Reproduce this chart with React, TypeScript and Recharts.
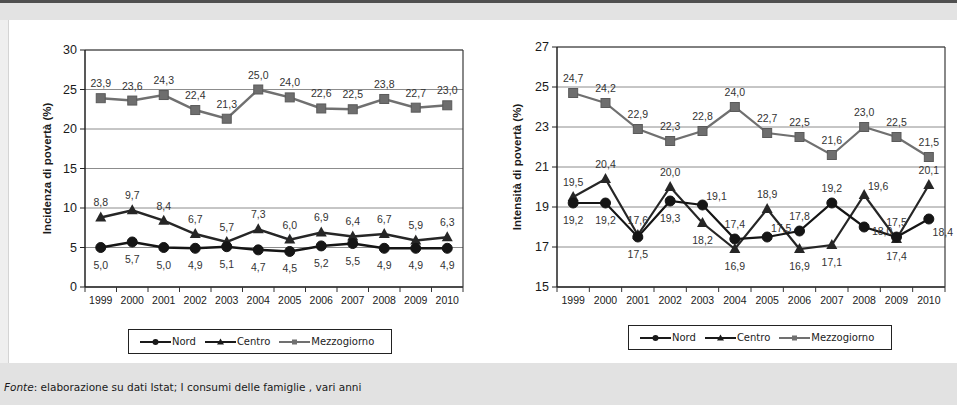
import React from 'react';
import { LineChart, Line, XAxis, YAxis, CartesianGrid } from 'recharts';

const years = ['1999', '2000', '2001', '2002', '2003', '2004', '2005', '2006', '2007', '2008', '2009', '2010'];

// incidenza di povertà (%)
const incNord = [5.0, 5.7, 5.0, 4.9, 5.1, 4.7, 4.5, 5.2, 5.5, 4.9, 4.9, 4.9];
const incCentro = [8.8, 9.7, 8.4, 6.7, 5.7, 7.3, 6.0, 6.9, 6.4, 6.7, 5.9, 6.3];
const incSud = [23.9, 23.6, 24.3, 22.4, 21.3, 25.0, 24.0, 22.6, 22.5, 23.8, 22.7, 23.0];
const incTicks = [0, 5, 10, 15, 20, 25, 30];

// intensità di povertà (%)
const intNord = [19.2, 19.2, 17.5, 19.3, 19.1, 17.4, 17.5, 17.8, 19.2, 18.0, 17.5, 18.4];
const intCentro = [19.5, 20.4, 17.6, 20.0, 18.2, 16.9, 18.9, 16.9, 17.1, 19.6, 17.4, 20.1];
const intSud = [24.7, 24.2, 22.9, 22.3, 22.8, 24.0, 22.7, 22.5, 21.6, 23.0, 22.5, 21.5];
const intTicks = [15, 17, 19, 21, 23, 25, 27];

const seriesNames = ['Nord', 'Centro', 'Mezzogiorno'];

// where each value label sits relative to its marker
const allTop = years.map(() => 'T');
const allBottom = years.map(() => 'B');
const intNordPlace = ['B', 'B', 'B', 'B', 'TR', 'T', 'TR', 'T', 'T', 'R', 'T', 'BR'];
const intCentroPlace = ['T', 'T', 'T', 'T', 'B', 'B', 'T', 'B', 'B', 'TR', 'B', 'T'];

const labelOffsets: Record<string, [number, number]> = {
  T: [0, -11],
  B: [0, 21],
  TR: [14, -5],
  R: [18, 8],
  BR: [14, 17],
};

const incData = years.map((year, i) => ({ year, nord: incNord[i], centro: incCentro[i], sud: incSud[i] }));
const intData = years.map((year, i) => ({ year, nord: intNord[i], centro: intCentro[i], sud: intSud[i] }));

const fmt = (v: number) => v.toFixed(1).replace('.', ',');

const DOT_COLORS = { nord: '#151515', centro: '#262626', sud: '#6e6e6e' };

const makeDot = (key: 'nord' | 'centro' | 'sud', place: string[]) => (props: any) => {
  const { cx, cy, index, payload } = props;
  if (cx == null || cy == null) return <g key={`e${index}`} />;
  const [dx, dy] = labelOffsets[place[index]] || [0, -11];
  const color = DOT_COLORS[key];
  let marker;
  if (key === 'nord') marker = <circle cx={cx} cy={cy} r={5} fill={color} stroke={color} />;
  else if (key === 'centro')
    marker = <polygon points={`${cx},${cy - 6} ${cx - 5.5},${cy + 4} ${cx + 5.5},${cy + 4}`} fill={color} />;
  else marker = <rect x={cx - 4.5} y={cy - 4.5} width={9} height={9} fill={color} stroke="#5a5a5a" />;
  return (
    <g key={`${key}${index}`}>
      {marker}
      <text
        x={cx + dx}
        y={cy + dy}
        textAnchor="middle"
        fontSize={10.5}
        fontFamily="Liberation Sans, Arial, sans-serif"
        fill="#333"
      >
        {fmt(payload[key])}
      </text>
    </g>
  );
};

const YearTick = (props: any) => {
  const { x, y, payload, band } = props;
  const last = payload.value === years[years.length - 1];
  return (
    <g>
      <line x1={x - band / 2} x2={x - band / 2} y1={y - 10} y2={y - 5} stroke="#333" />
      {last && <line x1={x + band / 2} x2={x + band / 2} y1={y - 10} y2={y - 5} stroke="#333" />}
      <text x={x} y={y} dy="0.71em" textAnchor="middle" fontSize={10.5} fontFamily="Liberation Sans, Arial, sans-serif" fill="#1a1a1a">
        {payload.value}
      </text>
    </g>
  );
};

type ChartProps = {
  left: number;
  width: number;
  top: number;
  data: any[];
  ticks: number[];
  yLabel: string;
  axisWidth: number;
  labelX: number;
  marginTop: number;
  marginRight: number;
  places: { nord: string[]; centro: string[]; sud: string[] };
  lineW: number;
};

const PovertyChart = (p: ChartProps) => {
  const height = 310;
  const band = (p.width - p.axisWidth - p.marginRight) / years.length;
  const domain: [number, number] = [p.ticks[0], p.ticks[p.ticks.length - 1]];
  const font = 'Liberation Sans, Arial, sans-serif';
  return (
    <div style={{ position: 'absolute', left: p.left, top: p.top }}>
      <LineChart
        width={p.width}
        height={height}
        data={p.data}
        margin={{ top: p.marginTop - 1, right: p.marginRight - 1, left: 0, bottom: 0 }}
      >
        <CartesianGrid vertical={false} stroke="#8c8c8c" strokeWidth={1} />
        <XAxis
          dataKey="year"
          interval={0}
          height={23}
          padding={{ left: band / 2, right: band / 2 }}
          tickSize={4}
          tickMargin={6}
          tickLine={false}
          axisLine={{ stroke: '#222', strokeWidth: 1.5 }}
          tick={<YearTick band={band} />}
        />
        {/* plot frame: top and right edges */}
        <XAxis
          xAxisId="frame"
          dataKey="year"
          orientation="top"
          height={1}
          tick={false}
          tickLine={false}
          axisLine={{ stroke: '#3a3a3a', strokeWidth: 1.2 }}
        />
        <YAxis
          yAxisId="frame"
          orientation="right"
          width={1}
          domain={domain}
          tick={false}
          tickLine={false}
          axisLine={{ stroke: '#3a3a3a', strokeWidth: 1.2 }}
        />
        <YAxis
          domain={domain}
          ticks={p.ticks}
          interval={0}
          width={p.axisWidth}
          tickSize={5}
          tickMargin={3}
          axisLine={{ stroke: '#222', strokeWidth: 1.5 }}
          tickLine={{ stroke: '#222' }}
          tick={{ fontSize: 12.5, fill: '#1a1a1a', fontFamily: font }}
          label={{
            value: p.yLabel,
            angle: -90,
            position: 'insideLeft',
            offset: p.labelX,
            style: { textAnchor: 'middle', fontSize: 11.5, fontWeight: 'bold', fill: '#1a1a1a', fontFamily: font },
          }}
        />
        <Line
          xAxisId="frame"
          yAxisId="frame"
          dataKey="sud"
          stroke="none"
          strokeWidth={0}
          dot={false}
          activeDot={false}
          isAnimationActive={false}
        />
        <Line dataKey="sud" stroke="#707070" strokeWidth={p.lineW} dot={makeDot('sud', p.places.sud)} activeDot={false} isAnimationActive={false} />
        <Line dataKey="centro" stroke="#262626" strokeWidth={p.lineW} dot={makeDot('centro', p.places.centro)} activeDot={false} isAnimationActive={false} />
        <Line dataKey="nord" stroke="#151515" strokeWidth={p.lineW} dot={makeDot('nord', p.places.nord)} activeDot={false} isAnimationActive={false} />
      </LineChart>
    </div>
  );
};

const LegendIcon = ({ kind }: { kind: number }) => {
  const color = kind === 2 ? '#707070' : '#1a1a1a';
  return (
    <svg width={31} height={10} style={{ display: 'block' }}>
      <line x1={0} x2={31} y1={5} y2={5} stroke={color} strokeWidth={2} />
      {kind === 0 && <circle cx={15.5} cy={5} r={3} fill={color} />}
      {kind === 1 && <polygon points="15.5,1.5 12,7.5 19,7.5" fill={color} />}
      {kind === 2 && <rect x={13} y={2.5} width={5} height={5} fill={color} />}
    </svg>
  );
};

const LegendBox = ({ left, top }: { left: number; top: number }) => (
  <div
    style={{
      position: 'absolute',
      left,
      top,
      width: 264,
      height: 25,
      boxSizing: 'border-box',
      border: '1.5px solid #222',
      display: 'flex',
      alignItems: 'center',
      paddingLeft: 11,
      fontFamily: 'DejaVu Sans, sans-serif',
      fontSize: 10,
      color: '#222',
      background: '#fff',
    }}
  >
    {seriesNames.map((name, i) => (
      <div key={name} style={{ display: 'flex', alignItems: 'center', marginRight: 9 }}>
        <LegendIcon kind={i} />
        <span style={{ marginLeft: 1 }}>{name}</span>
      </div>
    ))}
  </div>
);

export default function App() {
  return (
    <div style={{ position: 'absolute', left: 0, top: 0, width: 957, height: 405, overflow: 'hidden', background: '#fff' }}>
      <div style={{ position: 'absolute', left: 0, top: 0, width: 957, height: 3, background: '#505050' }} />
      <div style={{ position: 'absolute', left: 0, top: 3, width: 957, height: 17, background: '#e3e3e3' }} />
      <div style={{ position: 'absolute', left: 0, top: 20, width: 8, height: 343, background: '#efefef', borderRight: '1px solid #d4d4d4' }} />
      <div style={{ position: 'absolute', left: 0, top: 363, width: 957, height: 42, background: '#e2e2e2' }} />

      <PovertyChart
        left={0}
        top={0}
        width={480}
        data={incData}
        ticks={incTicks}
        yLabel="Incidenza di povertà (%)"
        axisWidth={85}
        labelX={47}
        marginTop={50}
        marginRight={17}
        places={{ nord: allBottom, centro: allTop, sud: allTop }}
        lineW={2.5}
      />
      <PovertyChart
        left={480}
        top={0}
        width={477}
        data={intData}
        ticks={intTicks}
        yLabel="Intensità di povertà (%)"
        axisWidth={77}
        labelX={37}
        marginTop={47}
        marginRight={12}
        places={{ nord: intNordPlace, centro: intCentroPlace, sud: allTop }}
        lineW={2.2}
      />

      <LegendBox left={128} top={329} />
      <LegendBox left={628} top={325} />

      <div
        style={{
          position: 'absolute',
          left: 4,
          top: 381,
          fontFamily: 'DejaVu Sans, sans-serif',
          fontSize: 10.5,
          color: '#1a1a1a',
          whiteSpace: 'nowrap',
        }}
      >
        <i>Fonte</i>: elaborazione su dati Istat; I consumi delle famiglie , vari anni
      </div>
    </div>
  );
}
